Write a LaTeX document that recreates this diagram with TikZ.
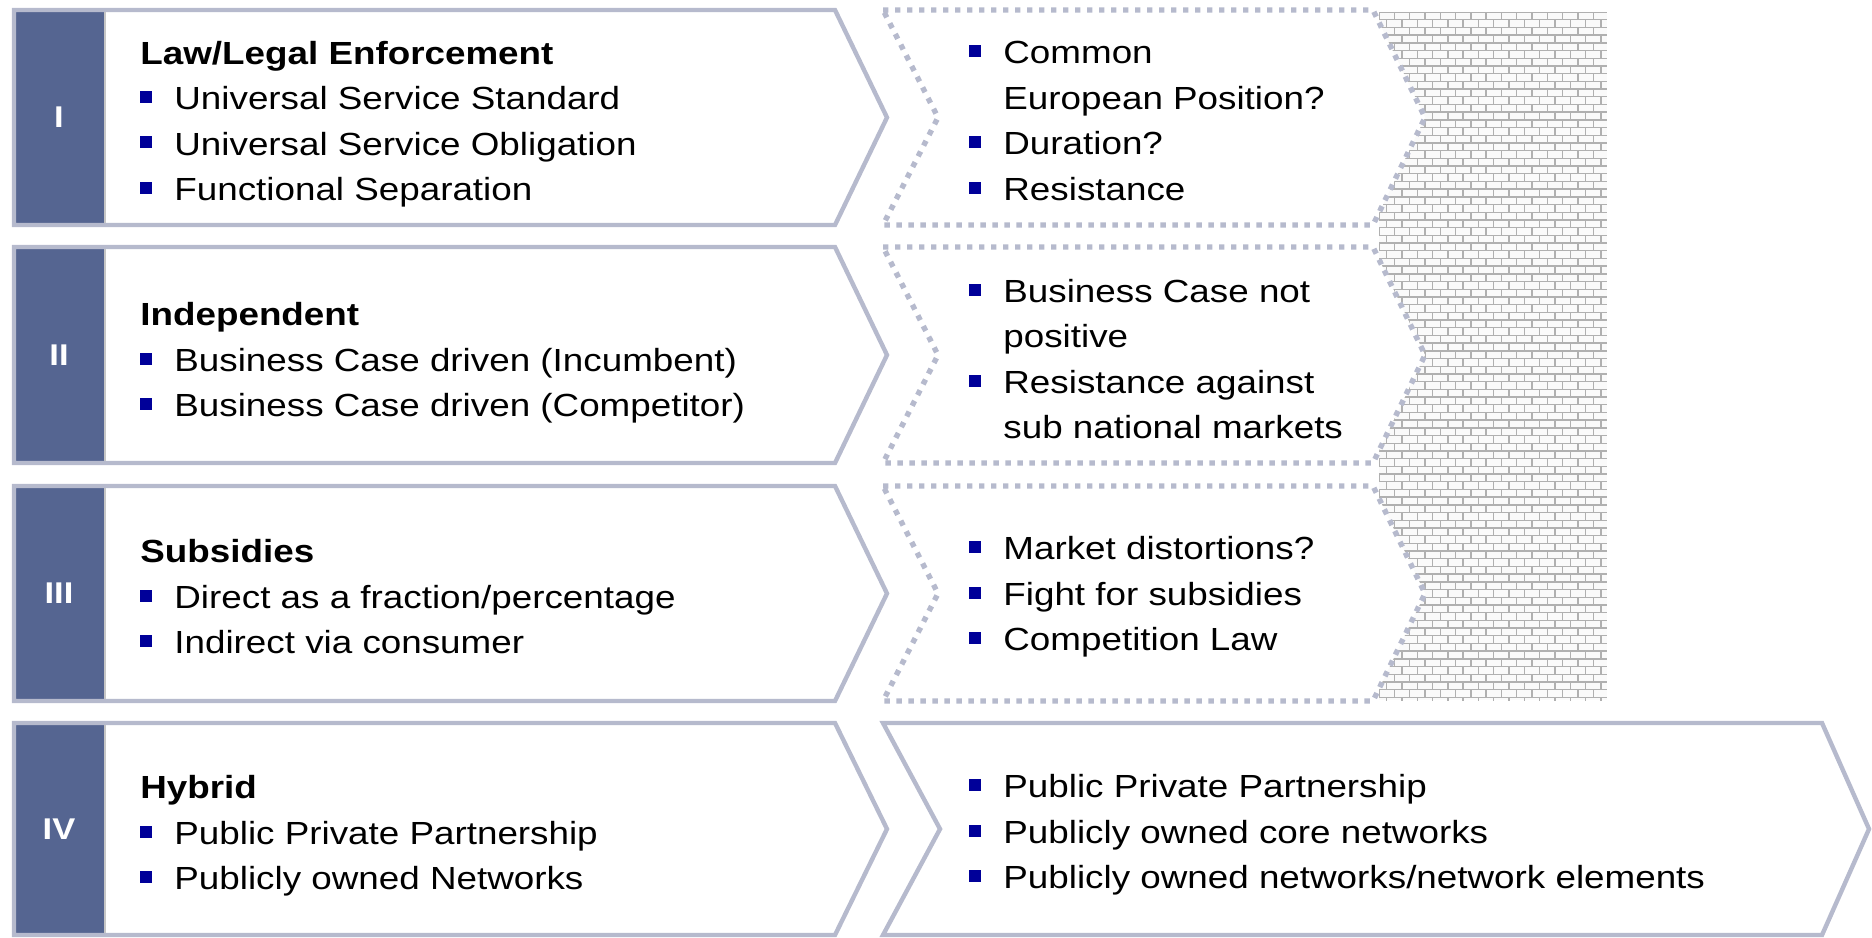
\documentclass[tikz,border=0pt]{standalone}
\usepackage{fontspec}
\setmainfont{Liberation Sans}[FakeStretch=1.15]
\usetikzlibrary{positioning}

\definecolor{rimgray}{RGB}{182,186,205}
\definecolor{tabblue}{RGB}{85,101,145}
\definecolor{bulletblue}{RGB}{0,0,153}
\definecolor{mortar}{RGB}{176,176,176}

\newcommand{\bul}{\makebox[17pt][l]{\textcolor{bulletblue}{\rule[3.3pt]{6pt}{6pt}}}}
\newcommand{\cont}{\makebox[17pt]{}}

\begin{document}
\begin{tikzpicture}[x=0.5pt, y=-0.5pt,
    chevron/.style={draw=rimgray, line width=2.2pt},
    dotchevron/.style={draw=rimgray, line width=2.7pt, dash pattern=on 2.7pt off 3.3pt},
    txt/.style={anchor=west, align=left, inner sep=0pt, font=\fontsize{16}{22.75}\selectfont},
    num/.style={text=white, inner sep=0pt, font=\fontsize{15}{15}\selectfont\bfseries}]

    \useasboundingbox (0,0) rectangle (1872,937);

    % brick wall behind the first three rows
    \fill[gray!4] (1379,12) rectangle (1607,700);
    \begin{scope}
        \clip (1379,12) rectangle (1607,700.5);
        \foreach \r in {0,...,89} {
            \pgfmathsetmacro{\yy}{12+7.7*\r}
            \pgfmathsetmacro{\sh}{mod(\r,2)*7.65}
            \draw[mortar, line width=0.7pt] (1379,\yy) -- (1607,\yy);
            \foreach \c in {-1,...,15}
                \draw[mortar, line width=0.7pt] ({1379+\sh+15.3*\c},\yy) -- ++(0,7.7);
        }
    \end{scope}

    % left column
    \foreach \t/\b/\n in {10/225/I, 247/463/II, 486/701/III, 723/935/IV} {
        \pgfmathsetmacro{\m}{(\t+\b)/2}
        \fill[white] (14,\t) -- (835,\t) -- (887,\m) -- (835,\b) -- (14,\b) -- cycle;
        \draw[draw=gray!45, fill=tabblue, line width=0.8pt] (14,\t) rectangle (105,\b);
        \node[num] (tab\n) at (59,\m) {\n};
        \draw[chevron] (14,\t) -- (835,\t) -- (887,\m) -- (835,\b) -- (14,\b) -- cycle;
    }

    % middle column
    \foreach \t/\b in {10/225, 247/463, 486/701} {
        \pgfmathsetmacro{\m}{(\t+\b)/2}
        \filldraw[fill=white, dotchevron] (883,\t) -- (1373,\t) -- (1425,\m) -- (1373,\b) -- (883,\b) -- (938,\m) -- cycle;
    }
    \filldraw[fill=white, chevron] (883,723) -- (1822,723) -- (1869,829) -- (1822,935) -- (883,935) -- (940,829) -- cycle;

    \node[txt] (lawtext) at (140,124) {\textbf{Law/Legal Enforcement}\\
        \bul Universal Service Standard\\
        \bul Universal Service Obligation\\
        \bul Functional Separation};
    \node[txt] (indtext) at (140,363) {\textbf{Independent}\\
        \bul Business Case driven (Incumbent)\\
        \bul Business Case driven (Competitor)};
    \node[txt] (subtext) at (140,597) {\textbf{Subsidies}\\
        \bul Direct as a fraction/percentage\\
        \bul Indirect via consumer};
    \node[txt] (hybtext) at (140,836) {\textbf{Hybrid}\\
        \bul Public Private Partnership\\
        \bul Publicly owned Networks};

    \node[txt] (lawrisk) at (969,121) {\bul Common\\
        \cont European Position?\\
        \bul Duration?\\
        \bul Resistance};
    \node[txt] (indrisk) at (969,359) {\bul Business Case not\\
        \cont positive\\
        \bul Resistance against\\
        \cont sub national markets};
    \node[txt] (subrisk) at (969,597) {\bul Market distortions?\\
        \bul Fight for subsidies\\
        \bul Competition Law};
    \node[txt] (hybrisk) at (969,835) {\bul Public Private Partnership\\
        \bul Publicly owned core networks\\
        \bul Publicly owned networks/network elements};

\end{tikzpicture}
\end{document}
